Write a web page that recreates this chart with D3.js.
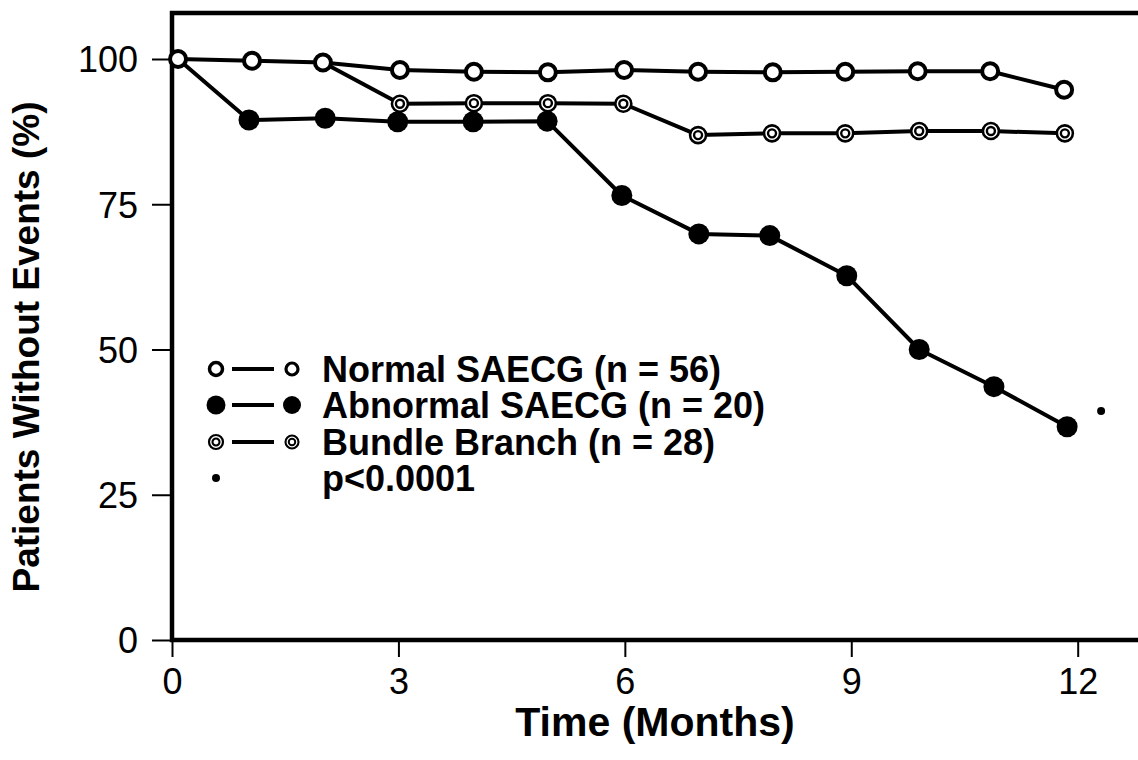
<!DOCTYPE html>
<html><head><meta charset="utf-8">
<script src="https://cdn.jsdelivr.net/npm/d3@7"></script>
<style>html,body{margin:0;padding:0;background:#fff;}svg{display:block;}</style>
</head><body>
<svg id="c" width="1138" height="760"></svg>
<script>
// ---- data ----
const normalMonths   = [0.08, 1.06, 2.0, 3.02, 4.0, 4.98, 5.99, 6.97, 7.96, 8.92, 9.88, 10.84, 11.82];
const normalValues   = [100, 99.7, 99.4, 98.1, 97.8, 97.7, 98.1, 97.8, 97.7, 97.8, 97.9, 97.9, 94.7];
const abnormalMonths = [0.08, 1.02, 2.03, 2.99, 3.99, 4.97, 5.96, 6.98, 7.92, 8.94, 9.90, 10.89, 11.86];
const abnormalValues = [100, 89.5, 89.8, 89.2, 89.2, 89.3, 76.5, 69.9, 69.6, 62.7, 50.0, 43.6, 36.7];
const bundleMonths   = [2.0, 3.02, 4.0, 4.98, 5.98, 6.97, 7.95, 8.92, 9.9, 10.85, 11.83];
const bundleValues   = [99.4, 92.3, 92.4, 92.4, 92.3, 86.9, 87.2, 87.2, 87.6, 87.6, 87.2];
const pointMonth = [12.31];
const pointValue = [39.4];
const xTicks = [0, 3, 6, 9, 12];
const yTicks = [0, 25, 50, 75, 100];
const legendLabels = ["Normal SAECG (n = 56)", "Abnormal SAECG (n = 20)", "Bundle Branch (n = 28)", "p<0.0001"];
const xTitle = "Time (Months)";
const yTitle = "Patients Without Events (%)";

// ---- drawing ----
const svg = d3.select("#c");
const x = d3.scaleLinear().domain([0, 12]).range([172, 1077.7]);
const y = d3.scaleLinear().domain([0, 100]).range([640, 59]);
const FONT = "'Liberation Sans', Arial, Helvetica, sans-serif";

// axes
const xAxis = d3.axisBottom(x).tickValues(xTicks).tickSize(17).tickPadding(11).tickFormat(d3.format("d"));
const yAxis = d3.axisLeft(y).tickValues(yTicks).tickSize(20).tickPadding(14).tickFormat(d3.format("d"));
const gx = svg.append("g").attr("transform", "translate(0,640)").call(xAxis);
const gy = svg.append("g").attr("transform", "translate(172,0)").call(yAxis);
[gx, gy].forEach(g => {
  g.select(".domain").remove();
  g.selectAll(".tick line").attr("stroke", "#000").attr("stroke-width", 2);
  g.selectAll(".tick text").attr("fill", "#000").style("font-family", FONT).style("font-size", "36px");
});
gx.selectAll(".tick text").attr("dy", "0.71em");
gy.selectAll(".tick text").attr("dy", "0.36em");

// frame (left, bottom, top)
svg.append("path")
  .attr("d", `M1138,${13}H172V640H1138`)
  .attr("fill", "none").attr("stroke", "#000").attr("stroke-width", 4.5);

// titles
svg.append("text").attr("x", 655).attr("y", 736).attr("text-anchor", "middle")
  .style("font-family", FONT).style("font-weight", "bold").style("font-size", "41px")
  .text(xTitle);
svg.append("text").attr("transform", "translate(39,347) rotate(-90)").attr("text-anchor", "middle")
  .style("font-family", FONT).style("font-weight", "bold").style("font-size", "37px")
  .text(yTitle);

const line = d3.line().x(d => x(d[0])).y(d => y(d[1]));
const zip = (a, b) => a.map((v, i) => [v, b[i]]);
const normal = zip(normalMonths, normalValues);
const abnormal = zip(abnormalMonths, abnormalValues);
const bundle = zip(bundleMonths, bundleValues);

[abnormal, bundle, normal].forEach(s => {
  svg.append("path").attr("d", line(s)).attr("fill", "none")
    .attr("stroke", "#000").attr("stroke-width", 4).attr("stroke-linejoin", "round");
});

function openMark(g, r, sw) {
  g.append("circle").attr("r", r).attr("fill", "#fff").attr("stroke", "#000").attr("stroke-width", sw);
}
function filledMark(g, r) {
  g.append("circle").attr("r", r).attr("fill", "#000");
}
function bundleMark(g, r) {
  g.append("circle").attr("r", r).attr("fill", "#fff").attr("stroke", "#000").attr("stroke-width", r * 0.32);
  g.append("circle").attr("r", r * 0.5).attr("fill", "#fff").attr("stroke", "#000").attr("stroke-width", r * 0.3);
}

// markers (shared starting points drawn as Normal)
abnormal.slice(1).forEach(d => filledMark(svg.append("g").attr("transform", `translate(${x(d[0])},${y(d[1])})`), 10.5));
bundle.slice(1).forEach(d => bundleMark(svg.append("g").attr("transform", `translate(${x(d[0])},${y(d[1])})`), 8));
normal.forEach(d => openMark(svg.append("g").attr("transform", `translate(${x(d[0])},${y(d[1])})`), 8, 4));
zip(pointMonth, pointValue).forEach(d => svg.append("circle").attr("cx", x(d[0])).attr("cy", y(d[1])).attr("r", 4).attr("fill", "#000"));

// legend
const legY = [369, 405, 442, 478];
const leg = svg.append("g");
legendLabels.forEach((lab, i) => {
  const row = leg.append("g").attr("transform", `translate(0,${legY[i]})`);
  if (i < 3) {
    row.append("line").attr("x1", 232).attr("x2", 274).attr("stroke", "#000").attr("stroke-width", 4);
    const a = row.append("g").attr("transform", "translate(216,0)");
    const b = row.append("g").attr("transform", "translate(292,0)");
    if (i === 0) { openMark(a, 6.5, 3.5); openMark(b, 6, 3.2); }
    if (i === 1) { filledMark(a, 9.5); filledMark(b, 9); }
    if (i === 2) { bundleMark(a, 7); bundleMark(b, 6.5); }
  } else {
    row.append("circle").attr("cx", 216).attr("r", 4).attr("fill", "#000");
  }
  row.append("text").attr("x", 322).attr("dy", "0.36em")
    .style("font-family", FONT).style("font-weight", "bold").style("font-size", "36px")
    .text(lab);
});
</script>
</body></html>
